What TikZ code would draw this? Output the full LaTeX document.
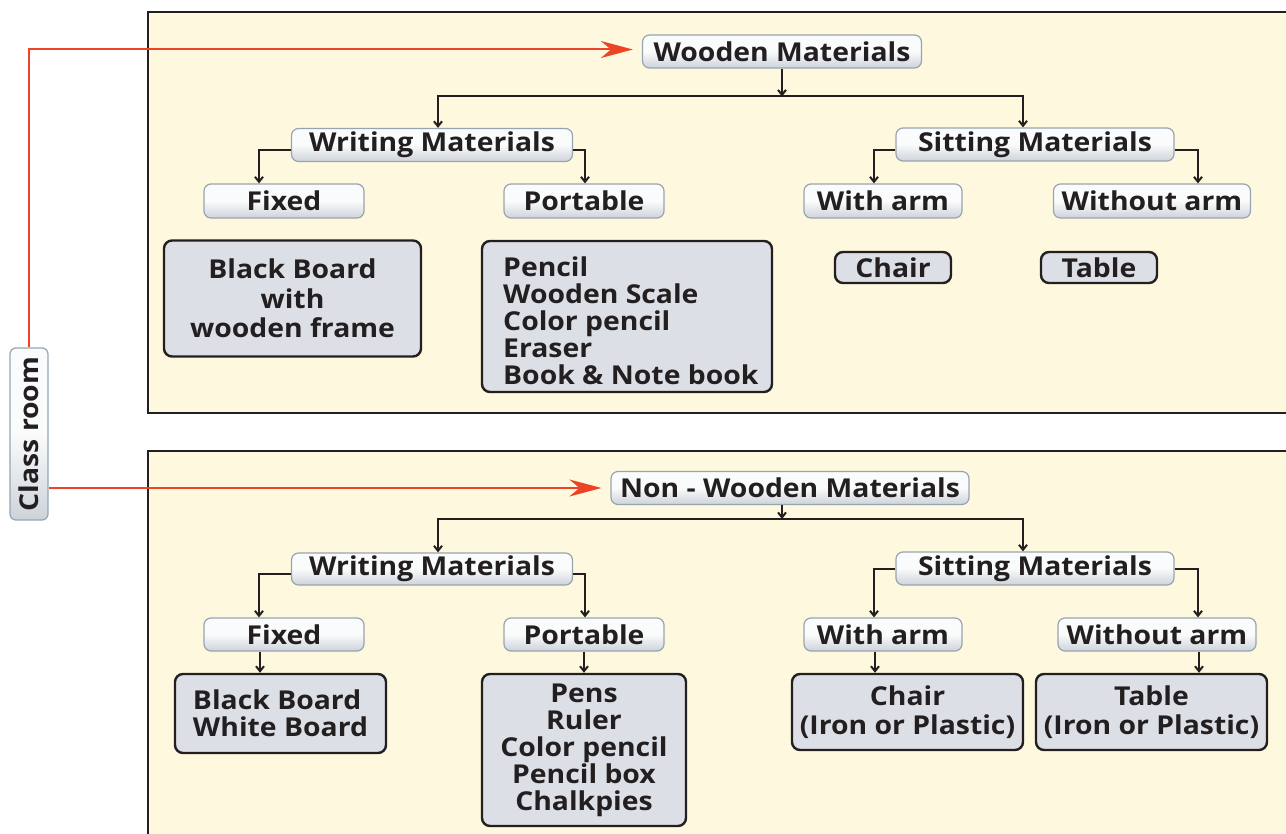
\documentclass[tikz,border=0pt]{standalone}
\usepackage{fontspec}
\setmainfont{Open Sans}[FakeStretch=1.09]
\usetikzlibrary{arrows.meta}
\definecolor{panelfill}{HTML}{FEF9DE}
\definecolor{dark}{HTML}{231F20}
\definecolor{boxfill}{HTML}{DCDFE5}
\definecolor{labborder}{HTML}{98A4B0}
\definecolor{labtop}{HTML}{FAFBFC}
\definecolor{labbot}{HTML}{CDD3DA}
\definecolor{redline}{HTML}{EE4426}
\tikzset{
  panel/.style={draw=dark, line width=2.2pt, fill=panelfill},
  lab/.style={draw=labborder, line width=1.2pt, rounded corners=7pt,
    top color=labtop, bottom color=labbot, middle color=white!90!labbot,
    font=\bfseries\fontsize{26}{27}\selectfont, text=dark, inner sep=0pt, minimum height=33pt},
  cbox/.style={draw=dark, line width=2.4pt, fill=boxfill, rounded corners=8pt,
    font=\bfseries\fontsize{26}{27}\selectfont, text=dark, align=center, inner sep=0pt},
  cboxtext/.style={font=\bfseries\fontsize{26}{27}\selectfont, text=dark, inner sep=0pt},
  arr/.style={draw=dark, line width=2pt, -{Straight Barb[length=5pt,width=8pt]}},
  redarr/.style={draw=redline, line width=2pt, -{Stealth[length=32pt,width=17pt,inset=10pt]}, shorten >=9pt}
}
\begin{document}
\begin{tikzpicture}[x=1pt,y=-1pt]
\useasboundingbox (0,0) rectangle (1286,834);
\clip (0,0) rectangle (1286,834);
\fill[white] (0,0) rectangle (1286,834);
% panels
\draw[panel] (148,12) rectangle (1300,413);
\draw[panel] (148,451) rectangle (1300,850);

% Class room
\node[lab, rotate=90, minimum width=172pt, minimum height=38pt, rounded corners=6pt] (CR) at (29,434) {Class room};

% ---------- upper ----------
\node[lab, minimum width=279pt] (WM) at (782,51.5) {Wooden Materials};
\node[lab, minimum width=281pt] (WrM) at (432,145) {Writing Materials};
\node[lab, minimum width=278pt] (SiM) at (1035,144.5) {Sitting Materials};
\node[lab, minimum width=160pt, minimum height=34pt] (Fix) at (284,201) {Fixed};
\node[lab, minimum width=160pt, minimum height=34pt] (Por) at (584,201) {Portable};
\node[lab, minimum width=158pt, minimum height=34pt] (WA) at (883,201) {With arm};
\node[lab, minimum width=197pt, minimum height=34pt] (WoA) at (1152,201) {Without arm};
\node[cbox, minimum width=257pt, minimum height=116pt, font=\bfseries\fontsize{26}{29.5}\selectfont] (BB) at (292.5,298.5) {Black Board\\with\\wooden frame};
\node[cbox, minimum width=290pt, minimum height=151pt] (Pen) at (627,316.5) {};
\node[cboxtext, align=left, anchor=west] (PenT) at (503,321) {Pencil\\Wooden Scale\\Color pencil\\Eraser\\Book \& Note book};
\node[cbox, minimum width=116pt, minimum height=31pt] (Ch) at (893,267.5) {Chair};
\node[cbox, minimum width=116pt, minimum height=31pt] (Tb) at (1099,267.5) {Table};

\coordinate (b1) at (782,96.5);
\draw[arr] (WM.south) -- (b1);
\draw[arr] (b1) -| ([xshift=6pt]WrM.north);
\draw[arr] (b1) -| ([xshift=-12pt]SiM.north);
\draw[arr] ([yshift=-5pt]WrM.west) -| ([xshift=-25pt]Fix.north);
\draw[arr] ([yshift=-5pt]WrM.east) -| ([xshift=1pt]Por.north);
\draw[arr] ([yshift=-5.5pt]SiM.west) -| ([xshift=-9pt]WA.north);
\draw[arr] ([yshift=-5.5pt]SiM.east) -| ([xshift=46pt]WoA.north);

\draw[redarr] (CR.east) |- ([yshift=2pt]WM.west);

% ---------- lower ----------
\node[lab, minimum width=358pt] (NWM) at (790,488) {Non - Wooden Materials};
\node[lab, minimum width=281pt, minimum height=32pt] (WrM2) at (432,569) {Writing Materials};
\node[lab, minimum width=278pt] (SiM2) at (1035,568.5) {Sitting Materials};
\node[lab, minimum width=160pt] (Fix2) at (284,634.5) {Fixed};
\node[lab, minimum width=160pt] (Por2) at (584,634.5) {Portable};
\node[lab, minimum width=158pt] (WA2) at (883,634.5) {With arm};
\node[lab, minimum width=198pt] (WoA2) at (1157,634.5) {Without arm};
\node[cbox, minimum width=211pt, minimum height=79pt, align=left] (BB2) at (280.5,713.5) {Black Board\\White Board};
\node[cbox, minimum width=204pt, minimum height=152pt] (Pens2) at (584,750) {Pens\\Ruler\\Color pencil\\Pencil box\\Chalkpies};
\node[cbox, minimum width=231pt, minimum height=76pt, font=\bfseries\fontsize{26}{28.5}\selectfont] (Ch2) at (907.5,712) {Chair\\(Iron or Plastic)};
\node[cbox, minimum width=231pt, minimum height=76pt, font=\bfseries\fontsize{26}{28.5}\selectfont] (Tb2) at (1151.5,712) {Table\\(Iron or Plastic)};

\coordinate (b2) at (782,519);
\draw[arr] ([xshift=-8pt]NWM.south) -- (b2);
\draw[arr] (b2) -| ([xshift=6pt]WrM2.north);
\draw[arr] (b2) -| ([xshift=-12pt]SiM2.north);
\draw[arr] ([yshift=-5pt]WrM2.west) -| ([xshift=-25pt]Fix2.north);
\draw[arr] ([yshift=-5pt]WrM2.east) -| ([xshift=1pt]Por2.north);
\draw[arr] (SiM2.west) -| ([xshift=-9pt]WA2.north);
\draw[arr] (SiM2.east) -| ([xshift=41pt]WoA2.north);
\draw[arr] ([xshift=-24pt]Fix2.south) -- ([xshift=-24pt]Fix2.south |- BB2.north);
\draw[arr] (Por2.south) -- (Por2.south |- Pens2.north);
\draw[arr] ([xshift=-8pt]WA2.south) -- ([xshift=-8pt]WA2.south |- Ch2.north);
\draw[arr] ([xshift=42pt]WoA2.south) -- ([xshift=42pt]WoA2.south |- Tb2.north);

\draw[redarr] (CR.south |- NWM.west) -- (NWM.west);
\end{tikzpicture}
\end{document}
